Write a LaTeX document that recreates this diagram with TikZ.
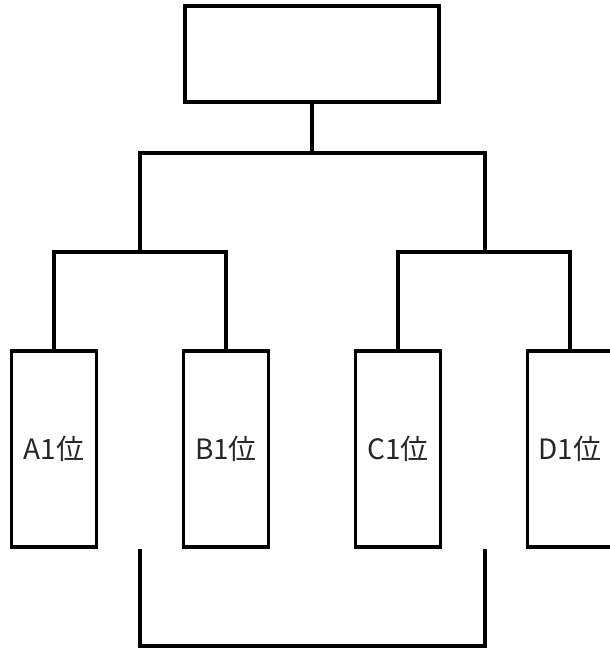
\documentclass[tikz,border=0pt]{standalone}
\usepackage{fontspec}
\newfontfamily\jpfont{Noto Sans CJK JP}
\usetikzlibrary{positioning}
\tikzset{
  entry/.style={draw,line width=3.2pt,minimum width=85pt,minimum height=196pt,inner sep=0pt,
    font=\jpfont\fontsize{28}{34}\selectfont,text=black!85},
  topbox/.style={draw,line width=3.2pt,minimum width=254pt,minimum height=96pt,inner sep=0pt},
  bracket/.style={line width=3.2pt}
}

\begin{document}
\begin{tikzpicture}[x=1pt,y=-1pt]
  \useasboundingbox (0,0) rectangle (610,649);
  \clip (0,0) rectangle (610,649);
  % final
  \node[topbox] (winner) at (312,54) {};
  % group leaders
  \node[entry] (A) at (54,449) {A1位};
  \node[entry] (B) at (226,449) {B1位};
  \node[entry] (C) at (398,449) {C1位};
  \node[entry] (D) at (570,449) {D1位};
  % joints
  \coordinate (AB) at (140,252);
  \coordinate (CD) at (485,252);
  \coordinate (root) at (312,153);
  \coordinate (third) at (312,646);
  % semifinals
  \draw[bracket] (A.north) |- (AB) -| (B.north);
  \draw[bracket] (C.north) |- (CD) -| (D.north);
  \draw[bracket] (AB) |- (root) -| (CD);
  \draw[bracket] (winner.south) -- (root);
  % third place
  \draw[bracket] (AB |- A.south) |- (third) -| (CD |- D.south);
\end{tikzpicture}
\end{document}
